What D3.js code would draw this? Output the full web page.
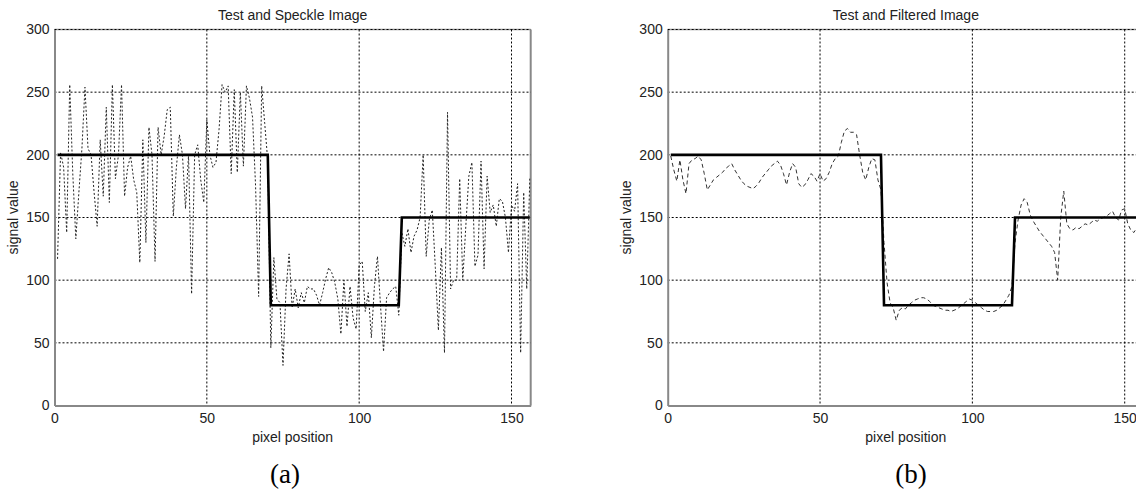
<!DOCTYPE html>
<html>
<head>
<meta charset="utf-8">
<script src="https://cdn.jsdelivr.net/npm/d3@7"></script>
<style>
  body { margin: 0; background: #fff; }
  svg { display: block; }
  text { font-family: "Liberation Sans", Arial, sans-serif; fill: #222; }
  .caption { font-family: "Liberation Serif", "Times New Roman", serif; fill: #000; }
</style>
</head>
<body>
<div id="chart"></div>
<script>
// ---- data ----
const xTicks = [0, 50, 100, 150];
const yTicks = [0, 50, 100, 150, 200, 250, 300];

// ideal test signal: corner points of the step
const testX = [1, 70, 71, 113, 114, 156];
const testY = [200, 200, 80, 80, 150, 150];

// speckled signal, pixels 1..156
const speckle = [
  117, 202, 190, 138, 256, 185, 133, 170, 205, 254,
  205, 200, 170, 143, 212, 167, 238, 162, 256, 181,
  200, 256, 167, 190, 199, 180, 170, 114, 212, 130,
  222, 200, 115, 222, 200, 215, 236, 238, 151, 190,
  216, 200, 157, 200, 89, 200, 208, 180, 162, 228,
  200, 190, 194, 220, 256, 250, 255, 185, 252, 186,
  250, 191, 255, 245, 230, 175, 87, 255, 225, 195,
  46, 118, 85, 82, 32, 93, 121, 78, 93, 78,
  90, 82, 95, 93, 93, 88, 80, 90, 101, 110,
  106, 98, 85, 57, 100, 63, 95, 70, 61, 112,
  115, 75, 90, 54, 95, 119, 80, 43, 86, 90,
  93, 95, 72, 138, 127, 141, 122, 135, 140, 150,
  200, 119, 148, 156, 110, 60, 126, 42, 234, 93,
  100, 100, 181, 100, 143, 183, 194, 111, 120, 195,
  109, 183, 154, 160, 143, 165, 163, 150, 122, 160,
  155, 177, 42, 170, 93, 181
];

// filtered signal, pixels 1..156
const filtered = [
  199, 188, 179, 196, 180, 169, 193, 196, 197, 199,
  196, 185, 172, 176, 180, 182, 184, 186, 189, 191,
  193, 188, 184, 180, 177, 175, 174, 173, 175, 178,
  182, 185, 188, 191, 193, 195, 192, 185, 176, 186,
  193, 190, 177, 174, 176, 180, 185, 183, 179, 185,
  179, 181, 186, 193, 197, 199, 210, 219, 221, 218,
  218, 216, 200, 186, 180, 190, 197, 196, 180, 172,
  130, 98, 82, 78, 68, 76, 78, 77, 80, 82,
  84, 85, 86, 86, 85, 83, 80, 79, 78, 77,
  76, 76, 75, 76, 77, 79, 81, 83, 85, 84,
  82, 80, 78, 76, 75, 75, 75, 76, 78, 80,
  84, 88, 95, 130, 148, 160, 165, 162, 152, 147,
  143, 139, 136, 133, 130, 127, 122, 100, 150, 171,
  145, 141, 140, 142, 141, 143, 145, 144, 146, 148,
  147, 149, 150, 151, 153, 155, 150, 148, 156, 157,
  145, 140, 138, 142, 140, 141
];

const pixels = d3.range(1, speckle.length + 1);

const panels = [
  { id: 'a', title: 'Test and Speckle Image', series: speckle, dash: '2,2', color: '#222',
    left: 54.5, caption: '(a)', capX: 285 },
  { id: 'b', title: 'Test and Filtered Image', series: filtered, dash: '4,3', color: '#333',
    left: 667.7, caption: '(b)', capX: 911 }
];

const W = 1136, H = 492;
const plotTop = 29.5, plotW = 476.2, plotH = 376;

const svg = d3.select('#chart').append('svg')
    .attr('width', W)
    .attr('height', H);

const x = d3.scaleLinear().domain([0, 156.3]).range([0, plotW]);
const y = d3.scaleLinear().domain([0, 300]).range([plotH, 0]);

function drawPanel(p) {
    const g = svg.append('g')
        .attr('transform', 'translate(' + p.left + ',' + plotTop + ')');

    g.append('clipPath').attr('id', 'clip-' + p.id)
        .append('rect').attr('width', plotW).attr('height', plotH + 1).attr('y', -0.5);

    // box (top and right)
    g.append('line').attr('x1', 0).attr('x2', plotW).attr('y1', 0).attr('y2', 0)
        .attr('stroke', '#999').attr('stroke-width', 1.5);
    g.append('line').attr('x1', plotW).attr('x2', plotW).attr('y1', 0).attr('y2', plotH)
        .attr('stroke', '#888').attr('stroke-width', 2);

    // grid
    g.selectAll('.vgrid')
        .data(xTicks.filter(d => d > 0)).enter()
        .append('line').attr('class', 'vgrid')
        .attr('x1', d => x(d)).attr('x2', d => x(d))
        .attr('y1', 0).attr('y2', plotH)
        .attr('stroke', '#000').attr('stroke-width', 1)
        .attr('stroke-dasharray', '2,2');
    g.selectAll('.hgrid')
        .data(yTicks.filter(d => d > 0)).enter()
        .append('line').attr('class', 'hgrid')
        .attr('x1', 0).attr('x2', plotW)
        .attr('y1', d => y(d)).attr('y2', d => y(d))
        .attr('stroke', '#000').attr('stroke-width', 1)
        .attr('stroke-dasharray', '2,2');

    const data = g.append('g').attr('clip-path', 'url(#clip-' + p.id + ')');

    // noisy / filtered signal
    const line = d3.line()
        .x((d, i) => x(pixels[i]))
        .y(d => y(d));
    data.append('path')
        .datum(p.series)
        .attr('d', line)
        .attr('fill', 'none')
        .attr('stroke', p.color)
        .attr('stroke-width', 1)
        .attr('stroke-dasharray', p.dash);

    // test signal
    const testLine = d3.line()
        .x((d, i) => x(testX[i]))
        .y(d => y(d));
    data.append('path')
        .datum(testY)
        .attr('d', testLine)
        .attr('fill', 'none')
        .attr('stroke', '#000')
        .attr('stroke-width', 2.6);

    // axes
    const xAxis = g.append('g')
        .attr('transform', 'translate(0,' + plotH + ')')
        .call(d3.axisBottom(x).tickValues(xTicks).tickSize(0).tickPadding(9));
    const yAxis = g.append('g')
        .call(d3.axisLeft(y).tickValues(yTicks).tickSize(0).tickPadding(5));
    [xAxis, yAxis].forEach(a => {
        a.select('.domain').attr('stroke', '#888').attr('stroke-width', 2);
        a.selectAll('text').attr('font-size', 14).attr('fill', '#222')
            .attr('font-family', '"Liberation Sans", Arial, sans-serif');
    });
    xAxis.selectAll('text').attr('dy', '0.6em');

    // labels
    g.append('text')
        .attr('x', plotW / 2).attr('y', -10)
        .attr('text-anchor', 'middle').attr('font-size', 14)
        .text(p.title);
    g.append('text')
        .attr('x', plotW / 2).attr('y', plotH + 36)
        .attr('text-anchor', 'middle').attr('font-size', 14)
        .text('pixel position');
    g.append('text')
        .attr('transform', 'translate(' + (-37) + ',' + (plotH / 2) + ') rotate(-90)')
        .attr('text-anchor', 'middle').attr('font-size', 14)
        .text('signal value');

    svg.append('text').attr('class', 'caption')
        .attr('x', p.capX).attr('y', 483)
        .attr('text-anchor', 'middle').attr('font-size', 27)
        .text(p.caption);
}

panels.forEach(drawPanel);
</script>
</body>
</html>
